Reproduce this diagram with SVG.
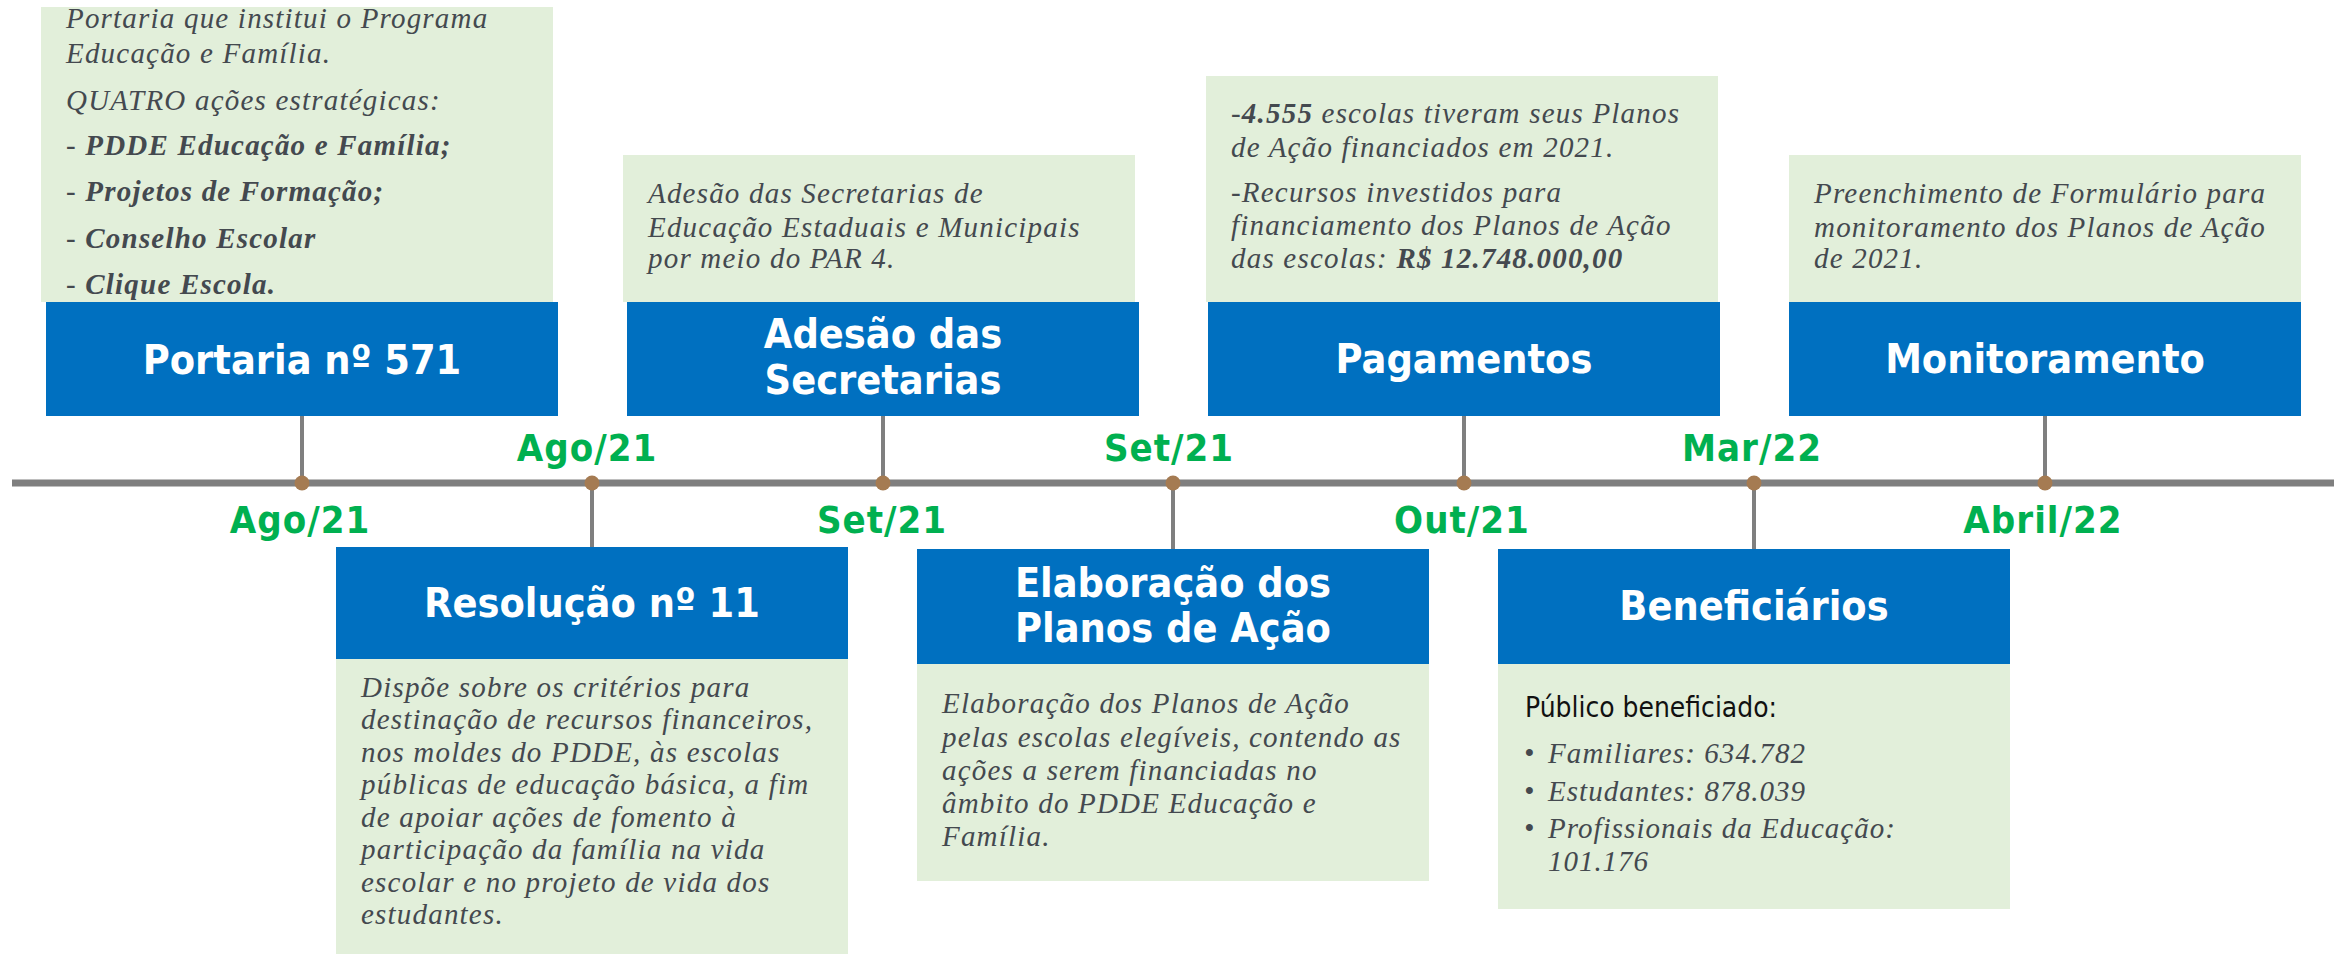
<svg xmlns="http://www.w3.org/2000/svg" width="2343" height="954" viewBox="0 0 2343 954">
<style>
.bg{fill:#ffffff}
.gbox{fill:#E2EFDA}
.bbox{fill:#0070C0}
.title{font-family:"DejaVu Sans Condensed","DejaVu Sans",sans-serif;font-stretch:condensed;font-weight:bold;font-size:41px;fill:#ffffff;text-anchor:middle}
.date{font-family:"DejaVu Sans Condensed","DejaVu Sans",sans-serif;font-stretch:condensed;font-weight:bold;font-size:38px;letter-spacing:1px;fill:#00B050;text-anchor:middle}
.body{font-family:"Liberation Serif","Times New Roman",serif;font-style:italic;font-size:29px;letter-spacing:1.2px;fill:#44494F}
.bul{font-family:"Liberation Serif","Times New Roman",serif;font-style:italic;font-size:29px;fill:#44494F}
.b{font-weight:bold}
.sans{font-family:"Liberation Sans Narrow","DejaVu Sans Condensed","Liberation Sans",sans-serif;font-style:normal;font-size:29px;fill:#111111}
.axis{stroke:#7F7F7F;stroke-width:7;fill:none}
.conn{stroke:#7F7F7F;stroke-width:4;fill:none}
.dot{fill:#A57B52}
</style>
<rect class="bg" x="0" y="0" width="2343" height="954"/>

<g id="connectors">
<line class="axis" x1="12" y1="483" x2="2334" y2="483"/>
<line class="conn" x1="302" y1="483" x2="302" y2="416"/>
<line class="conn" x1="883" y1="483" x2="883" y2="416"/>
<line class="conn" x1="1464" y1="483" x2="1464" y2="416"/>
<line class="conn" x1="2045" y1="483" x2="2045" y2="416"/>
<line class="conn" x1="592" y1="483" x2="592" y2="548"/>
<line class="conn" x1="1173" y1="483" x2="1173" y2="550"/>
<line class="conn" x1="1754" y1="483" x2="1754" y2="550"/>
<circle class="dot" cx="302" cy="483" r="7.5"/>
<circle class="dot" cx="592" cy="483" r="7.5"/>
<circle class="dot" cx="883" cy="483" r="7.5"/>
<circle class="dot" cx="1173" cy="483" r="7.5"/>
<circle class="dot" cx="1464" cy="483" r="7.5"/>
<circle class="dot" cx="1754" cy="483" r="7.5"/>
<circle class="dot" cx="2045" cy="483" r="7.5"/>
</g>

<g id="dates">
<text class="date" x="300" y="533">Ago/21</text>
<text class="date" x="587" y="461">Ago/21</text>
<text class="date" x="882" y="533">Set/21</text>
<text class="date" x="1169" y="461">Set/21</text>
<text class="date" x="1462" y="533">Out/21</text>
<text class="date" x="1752" y="461">Mar/22</text>
<text class="date" x="2043" y="533">Abril/22</text>
</g>

<g id="portaria">
<rect class="gbox" x="41" y="7" width="512" height="295"/>
<rect class="bbox" x="46" y="302" width="512" height="114"/>
<text class="title" x="302" y="374">Portaria nº 571</text>
<text class="body" x="66" y="28">Portaria que institui o Programa</text>
<text class="body" x="66" y="63">Educação e Família.</text>
<text class="body" x="66" y="110">QUATRO ações estratégicas:</text>
<text class="body" x="66" y="155">- <tspan class="b">PDDE Educação e Família;</tspan></text>
<text class="body" x="66" y="201">- <tspan class="b">Projetos de Formação;</tspan></text>
<text class="body" x="66" y="248">- <tspan class="b">Conselho Escolar</tspan></text>
<text class="body" x="66" y="294">- <tspan class="b">Clique Escola.</tspan></text>
</g>

<g id="resolucao">
<rect class="bbox" x="336" y="547" width="512" height="112"/>
<rect class="gbox" x="336" y="659" width="512" height="295"/>
<text class="title" x="592" y="617">Resolução nº 11</text>
<text class="body" x="361" y="697">Dispõe sobre os critérios para</text>
<text class="body" x="361" y="729">destinação de recursos financeiros,</text>
<text class="body" x="361" y="762">nos moldes do PDDE, às escolas</text>
<text class="body" x="361" y="794">públicas de educação básica, a fim</text>
<text class="body" x="361" y="827">de apoiar ações de fomento à</text>
<text class="body" x="361" y="859">participação da família na vida</text>
<text class="body" x="361" y="892">escolar e no projeto de vida dos</text>
<text class="body" x="361" y="924">estudantes.</text>
</g>

<g id="adesao">
<rect class="gbox" x="623" y="155" width="512" height="147"/>
<rect class="bbox" x="627" y="302" width="512" height="114"/>
<text class="title" x="883" y="348">Adesão das</text>
<text class="title" x="883" y="394">Secretarias</text>
<text class="body" x="648" y="203">Adesão das Secretarias de</text>
<text class="body" x="648" y="237">Educação Estaduais e Municipais</text>
<text class="body" x="648" y="268">por meio do PAR 4.</text>
</g>

<g id="elaboracao">
<rect class="bbox" x="917" y="549" width="512" height="115"/>
<rect class="gbox" x="917" y="664" width="512" height="217"/>
<text class="title" x="1173" y="597">Elaboração dos</text>
<text class="title" x="1173" y="642">Planos de Ação</text>
<text class="body" x="942" y="713">Elaboração dos Planos de Ação</text>
<text class="body" x="942" y="747">pelas escolas elegíveis, contendo as</text>
<text class="body" x="942" y="780">ações a serem financiadas no</text>
<text class="body" x="942" y="813">âmbito do PDDE Educação e</text>
<text class="body" x="942" y="846">Família.</text>
</g>

<g id="pagamentos">
<rect class="gbox" x="1206" y="76" width="512" height="226"/>
<rect class="bbox" x="1208" y="302" width="512" height="114"/>
<text class="title" x="1464" y="373">Pagamentos</text>
<text class="body" x="1231" y="123">-<tspan class="b">4.555</tspan> escolas tiveram seus Planos</text>
<text class="body" x="1231" y="157">de Ação financiados em 2021.</text>
<text class="body" x="1231" y="202">-Recursos investidos para</text>
<text class="body" x="1231" y="235">financiamento dos Planos de Ação</text>
<text class="body" x="1231" y="268">das escolas: <tspan class="b">R$ 12.748.000,00</tspan></text>
</g>

<g id="beneficiarios">
<rect class="bbox" x="1498" y="549" width="512" height="115"/>
<rect class="gbox" x="1498" y="664" width="512" height="245"/>
<text class="title" x="1754" y="620">Beneficiários</text>
<text class="sans" x="1525" y="717" textLength="252" lengthAdjust="spacingAndGlyphs">Público beneficiado:</text>
<text class="bul" x="1524" y="763">•</text>
<text class="bul" x="1548" y="763" textLength="257" lengthAdjust="spacing">Familiares: 634.782</text>
<text class="bul" x="1524" y="801">•</text>
<text class="bul" x="1548" y="801" textLength="257" lengthAdjust="spacing">Estudantes: 878.039</text>
<text class="bul" x="1524" y="838">•</text>
<text class="bul" x="1548" y="838" textLength="347" lengthAdjust="spacing">Profissionais da Educação:</text>
<text class="bul" x="1548" y="871" textLength="100" lengthAdjust="spacing">101.176</text>
</g>

<g id="monitoramento">
<rect class="gbox" x="1789" y="155" width="512" height="147"/>
<rect class="bbox" x="1789" y="302" width="512" height="114"/>
<text class="title" x="2045" y="373">Monitoramento</text>
<text class="body" x="1814" y="203">Preenchimento de Formulário para</text>
<text class="body" x="1814" y="237">monitoramento dos Planos de Ação</text>
<text class="body" x="1814" y="268">de 2021.</text>
</g>
</svg>
